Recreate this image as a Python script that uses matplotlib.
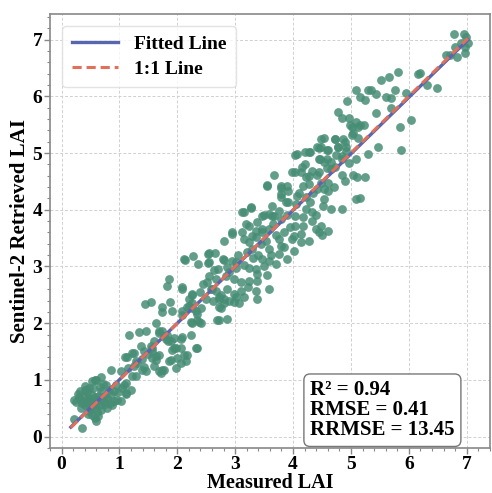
import numpy as np
import matplotlib
matplotlib.use("Agg")
import matplotlib.pyplot as plt
from matplotlib.ticker import AutoMinorLocator, MultipleLocator

# (measured, retrieved) pairs, grouped by measured LAI band
band_0_1 = [
    (0.21, 0.32), (0.35, 0.15), (0.31, 0.81), (0.40, 0.82), (0.48, 0.86), (0.60, 1.00),
    (0.77, 0.91), (0.69, 0.81), (0.34, 0.65), (0.45, 0.68), (0.53, 0.74), (0.40, 0.56),
    (0.52, 0.56), (0.62, 0.65), (0.57, 0.51), (0.71, 0.63), (0.79, 0.68), (0.86, 0.74),
    (0.91, 0.63), (0.96, 0.65), (0.79, 0.51), (0.69, 0.47), (0.48, 0.46), (0.57, 0.33),
    (0.91, 0.81), (0.94, 0.91), (0.57, 1.00), (0.86, 1.17), (0.53, 0.98), (0.69, 1.05),
    (0.30, 0.70), (0.38, 0.72), (0.42, 0.62), (0.47, 0.58), (0.50, 0.66), (0.55, 0.62),
    (0.58, 0.70), (0.60, 0.58), (0.64, 0.72), (0.66, 0.55), (0.73, 0.70), (0.75, 0.57),
    (0.44, 0.78), (0.36, 0.60), (0.50, 0.50), (0.62, 0.44), (0.84, 0.60), (0.88, 0.55),
    (0.28, 0.75), (0.45, 0.40), (0.55, 0.86), (0.66, 0.88), (0.82, 0.82), (0.72, 0.92),
    (0.40, 0.90), (0.33, 0.50), (0.52, 0.38), (0.63, 0.36), (0.25, 0.62), (0.98, 0.78),
    (0.22, 0.65), (0.60, 0.28),
]
band_1_2 = [
    (1.03, 1.16), (1.17, 1.79), (1.34, 1.84), (1.46, 1.86), (1.22, 1.47), (1.13, 1.40),
    (1.29, 1.33), (1.39, 1.37), (1.43, 1.23), (1.46, 1.16), (1.29, 1.07), (1.20, 0.82),
    (1.08, 0.91), (1.11, 0.75), (1.03, 0.63), (1.63, 1.42), (1.69, 1.16), (1.74, 1.17),
    (1.86, 1.33), (1.89, 1.68), (1.69, 1.82), (1.81, 1.73), (1.94, 1.56), (1.57, 1.56),
    (1.86, 2.78), (1.82, 2.66), (1.45, 2.33), (1.55, 2.38), (1.74, 2.29), (1.88, 2.38),
    (1.91, 2.21), (1.74, 2.19), (1.64, 2.00), (1.74, 1.86), (1.77, 1.77), (1.84, 1.68),
    (1.94, 1.74), (1.69, 1.44), (1.57, 1.51), (1.64, 1.35), (1.10, 1.40), (1.26, 1.47),
    (1.43, 1.51), (1.05, 0.86), (1.12, 0.77), (1.12, 0.95), (1.14, 1.21), (1.22, 1.07),
    (1.31, 1.30), (1.69, 1.86), (1.82, 1.79), (1.60, 1.68), (1.55, 1.59), (1.91, 1.52),
    (1.98, 1.56), (1.98, 1.21), (1.89, 1.35), (1.77, 1.17), (1.72, 1.12), (1.57, 1.38),
    (1.39, 1.17), (1.60, 1.24), (1.50, 1.45), (1.37, 1.60), (1.25, 1.25),
]
band_2_3 = [
    (2.13, 3.12), (2.27, 3.19), (2.36, 3.05), (2.53, 3.22), (2.65, 3.24), (2.53, 3.06),
    (2.63, 2.94), (2.81, 3.12), (2.86, 2.99), (2.08, 2.61), (2.20, 2.43), (2.25, 2.35),
    (2.17, 2.29), (2.32, 2.21), (2.08, 2.15), (2.34, 2.05), (2.25, 2.01), (2.41, 2.00),
    (2.51, 2.73), (2.58, 2.61), (2.66, 2.56), (2.72, 2.43), (2.81, 2.35), (2.89, 2.40),
    (2.98, 2.38), (2.72, 2.05), (2.86, 2.07), (2.72, 2.29), (2.08, 1.75), (2.24, 1.80),
    (2.07, 1.56), (2.32, 1.56), (2.17, 1.44), (2.00, 1.38), (2.07, 1.73), (2.34, 1.56),
    (2.12, 1.44), (2.15, 1.33), (2.07, 1.30), (2.24, 2.03), (2.37, 2.03), (2.68, 2.05),
    (2.75, 2.26), (2.80, 2.43), (2.72, 2.47), (2.25, 2.49), (2.08, 2.21), (2.34, 2.17),
    (2.20, 2.31), (2.25, 2.26), (2.41, 2.26), (2.12, 3.13), (2.55, 3.24), (2.55, 3.08),
    (2.79, 3.13), (2.94, 3.10), (2.70, 2.96), (2.55, 2.84), (2.66, 2.78), (2.84, 2.84),
    (2.98, 2.78), (2.86, 2.61), (2.60, 2.61), (2.75, 2.49), (2.50, 2.43), (2.08, 2.64),
    (2.25, 2.52), (2.98, 2.52), (2.94, 3.61), (2.81, 3.45), (2.94, 3.57), (2.45, 2.70),
    (2.62, 2.40), (2.90, 2.90), (2.40, 2.55),
]
band_3_4 = [
    (3.55, 4.43), (3.79, 4.41), (3.89, 4.41), (3.80, 4.27), (3.92, 4.13), (3.12, 3.96),
    (3.27, 4.03), (3.49, 3.91), (3.58, 3.92), (3.67, 3.89), (3.18, 3.75), (3.37, 3.78),
    (3.46, 3.66), (3.15, 3.49), (3.24, 3.43), (3.36, 3.52), (3.53, 3.45), (3.29, 3.31),
    (3.58, 3.31), (3.80, 3.36), (3.75, 3.22), (3.46, 3.13), (3.58, 3.10), (3.89, 3.13),
    (3.98, 3.49), (3.01, 3.08), (3.01, 2.98), (3.15, 3.03), (3.24, 2.98), (3.36, 2.96),
    (3.10, 2.73), (3.24, 2.75), (3.37, 2.87), (3.37, 2.75), (3.22, 2.64), (3.36, 2.56),
    (3.10, 2.56), (3.15, 2.47), (3.37, 2.43), (3.58, 2.61), (3.06, 2.35), (3.01, 2.47),
    (3.67, 4.62), (3.55, 4.41), (3.80, 4.39), (3.92, 4.33), (3.79, 4.22), (3.87, 4.13),
    (3.63, 4.06), (3.15, 3.96), (3.27, 4.05), (3.46, 3.89), (3.63, 3.89), (3.75, 3.98),
    (3.80, 3.84), (3.24, 3.71), (3.12, 3.61), (3.29, 3.54), (3.36, 3.63), (3.58, 3.66),
    (3.46, 3.61), (3.75, 3.49), (3.98, 4.66), (3.40, 3.20), (3.70, 3.55), (3.50, 3.00),
    (3.85, 3.60), (3.65, 3.75), (3.30, 3.15), (3.05, 3.20), (3.90, 3.90), (3.45, 3.40),
    (3.62, 3.20), (3.20, 3.25), (3.55, 2.85), (3.70, 3.05), (3.85, 3.35), (3.95, 3.70),
]
band_4_5 = [
    (4.27, 5.01), (4.06, 4.99), (4.44, 5.08), (4.58, 5.06), (4.73, 5.24), (4.78, 5.11),
    (4.90, 5.20), (4.92, 5.03), (4.53, 5.27), (4.44, 4.89), (4.53, 4.85), (4.65, 4.85),
    (4.73, 4.76), (4.58, 4.73), (4.84, 4.94), (4.96, 4.83), (4.13, 4.66), (4.22, 4.57),
    (4.32, 4.68), (4.41, 4.62), (4.48, 4.48), (4.27, 4.45), (4.18, 4.41), (4.41, 4.36),
    (4.53, 4.36), (4.61, 4.33), (4.06, 4.24), (4.22, 4.22), (4.30, 4.13), (4.23, 4.01),
    (4.53, 4.19), (4.51, 4.06), (4.66, 4.01), (4.84, 4.01), (4.04, 3.89), (4.18, 3.87),
    (4.32, 3.96), (4.04, 3.71), (4.18, 3.71), (4.32, 3.80), (4.39, 3.66), (4.49, 3.71),
    (4.61, 3.63), (4.44, 3.61), (4.13, 3.57), (4.01, 3.54), (4.13, 3.43), (4.27, 3.45),
    (4.01, 3.27), (4.94, 5.92), (4.77, 5.73), (4.84, 5.62), (4.96, 5.62), (4.87, 5.24),
    (4.73, 5.24), (4.49, 5.24), (4.49, 5.10), (4.41, 5.10), (4.61, 5.06), (4.92, 5.11),
    (4.78, 5.10), (4.84, 4.89), (4.75, 4.97), (4.04, 4.97), (4.21, 5.01), (4.29, 5.01),
    (4.15, 4.75), (4.04, 4.66), (4.47, 4.89), (4.58, 4.89), (4.65, 4.71), (4.27, 4.59),
    (4.44, 4.66), (4.84, 4.62), (4.61, 4.48), (4.10, 4.30), (4.35, 4.30), (4.70, 4.40),
    (4.20, 4.80), (4.90, 4.50), (4.05, 4.10), (4.40, 3.90), (4.50, 3.55),
]
band_5_6 = [
    (5.04, 5.36), (4.99, 5.50), (5.09, 4.19), (5.82, 6.43), (5.65, 6.34), (5.52, 6.29),
    (5.09, 6.11), (5.30, 6.11), (5.44, 6.04), (5.16, 5.99), (5.25, 5.94), (5.61, 5.99),
    (5.77, 6.11), (5.70, 5.97), (5.96, 6.06), (5.08, 5.55), (5.16, 5.50), (5.23, 5.50),
    (5.13, 5.45), (5.01, 5.46), (5.44, 5.71), (5.70, 5.80), (5.85, 5.45), (5.01, 5.32),
    (5.13, 5.27), (5.30, 4.99), (5.47, 5.11), (5.87, 5.06), (5.09, 4.89), (5.04, 4.62),
    (5.25, 4.57), (5.34, 6.11), (5.15, 4.20), (5.10, 4.57),
]
band_6_7 = [
    (6.16, 6.39), (6.04, 5.59), (6.78, 7.09), (6.95, 7.09), (6.99, 7.04), (6.90, 6.94),
    (7.02, 6.94), (6.80, 6.86), (6.97, 6.86), (6.64, 6.73), (6.71, 6.73), (6.83, 6.69),
    (6.97, 6.76), (6.20, 6.41), (6.32, 6.20), (6.49, 6.15),
]

# fitted line as drawn in the reference (it sits on the 1:1 line)
fit_slope = 0.995
fit_intercept = 0.01

stats_lines = ["R\u00b2 = 0.94", "RMSE = 0.41", "RRMSE = 13.45"]

plt.rcParams["font.family"] = ["Liberation Serif", "DejaVu Serif"]
plt.rcParams["font.weight"] = "bold"

pts = np.array(band_0_1 + band_1_2 + band_2_3 + band_3_4 + band_4_5 + band_5_6 + band_6_7)
measured = pts[:, 0]
retrieved = pts[:, 1]

fig = plt.figure(figsize=(4.92, 4.93), dpi=100)
ax = fig.add_axes([0.1016, 0.0912, 0.894, 0.8804])

ax.scatter(measured, retrieved, s=40, color="#468d74", alpha=0.85, linewidths=0, zorder=2)

xs = np.array([measured.min() - 0.05, measured.max()])
ax.plot(xs, fit_slope * xs + fit_intercept, color="#5866b0", lw=2.4, label="Fitted Line", zorder=3)
ax.plot(xs, xs, color="#e0705a", lw=2.2, ls=(0, (3.0, 1.6)), label="1:1 Line", zorder=4)

ax.set_xlim(-0.2, 7.4)
ax.set_ylim(-0.2, 7.45)
ax.grid(True, ls=(0, (3, 2)), color="#d0d0d0", lw=0.7, zorder=0)
ax.xaxis.set_major_locator(MultipleLocator(1))
ax.yaxis.set_major_locator(MultipleLocator(1))
ax.xaxis.set_minor_locator(AutoMinorLocator(5))
ax.yaxis.set_minor_locator(AutoMinorLocator(5))
ax.tick_params(which="major", length=4, width=1, color="#888888", labelsize=14, pad=1.5)
ax.tick_params(which="minor", length=2, width=0.8, color="#888888")
for sp in ax.spines.values():
    sp.set_color("#888888")
    sp.set_linewidth(1.2)

ax.set_xlabel("Measured LAI", fontsize=14.5, fontweight="bold", labelpad=0)
ax.set_ylabel("Sentinel-2 Retrieved LAI", fontsize=15, fontweight="bold", labelpad=2)

leg = ax.legend(loc="upper left", fontsize=14, handlelength=2.4, borderpad=0.5,
                labelspacing=0.35, fancybox=True, framealpha=0.8, edgecolor="#dddddd",
                bbox_to_anchor=(0.005, 0.995))

ax.text(0.92, 0.018, "\n".join(stats_lines), transform=ax.transAxes, ha="right", va="bottom",
        multialignment="left", fontsize=15, fontweight="bold", linespacing=1.0,
        bbox=dict(boxstyle="round,pad=0.3", facecolor="white", edgecolor="#777777", lw=1.0))

fig.savefig("out.png", dpi=100)
